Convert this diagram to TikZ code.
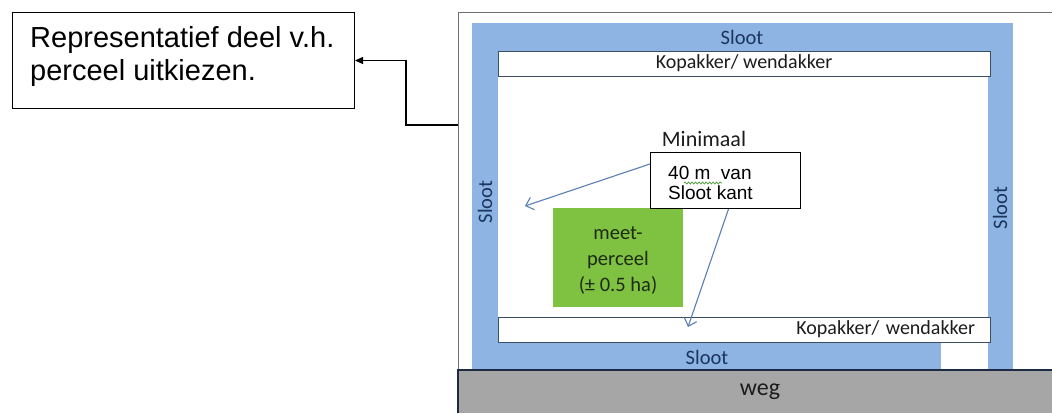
\documentclass[tikz,border=0pt]{standalone}
\usepackage{fontspec}
\setmainfont{Carlito}
\newfontfamily\arialf{Liberation Sans}
\usetikzlibrary{arrows.meta,decorations.pathmorphing,calc}
\definecolor{slootblue}{HTML}{8DB4E2}
\definecolor{slootink}{HTML}{1A355E}
\definecolor{boxedge}{HTML}{3C4E66}
\definecolor{meetgreen}{HTML}{7FC241}
\definecolor{weggray}{HTML}{A6A6A6}
\definecolor{wegedge}{HTML}{1D2A44}
\definecolor{arrowblue}{HTML}{5A7FB5}
\definecolor{framegray}{HTML}{6E6E6E}
\definecolor{inkgray}{HTML}{1C1C1C}
\definecolor{meetink}{HTML}{1E2A14}
\definecolor{squiggle}{HTML}{4E9A3A}
\begin{document}
\begin{tikzpicture}[x=1pt,y=-1pt,
  slootlabel/.style={font=\fontsize{20.5}{24}\selectfont, text=slootink, inner sep=0},
  kopbox/.style={draw=boxedge, line width=1pt, fill=white, inner sep=0,
    minimum width=492, minimum height=25, font=\fontsize{20}{24}\selectfont, text=inkgray},
  lefttext/.style={font=\arialf\fontsize{29}{33}\selectfont, anchor=base west, inner sep=0, text=black},
  afsttext/.style={font=\arialf\fontsize{19}{20}\selectfont, anchor=base west, inner sep=0, text=black},
  bluearrow/.style={arrowblue, line width=1.1pt, -{Straight Barb[length=7pt,width=13pt]}}
]
\useasboundingbox (0,0) rectangle (1052,413);
\fill[white] (0,0) rectangle (1052,413);

% left text box
\node[draw=black, line width=1pt, minimum width=342, minimum height=96, inner sep=0, anchor=north west] (leftbox) at (12,12) {};
\node[lefttext] (lt1) at (30,47) {Representatief deel v.h.};
\node[lefttext] (lt2) at (30,80) {perceel uitkiezen.};

% field frame
\draw[framegray, line width=1pt] (1052,12) -- (458,12) -- (458,413);
\coordinate (frameexit) at (458,125);
\draw[black, line width=1.1pt, -{Triangle[length=8pt,width=7pt]}] (frameexit) -- ++(-52,0) |- (leftbox.east);

% ditches
\fill[slootblue] (472,23) rectangle (1013,370);
\fill[white] (498,51) rectangle (988,342);
\fill[white] (941,342) rectangle (988,370);

\node[kopbox] (koptop) at (744,63.5) {Kopakker/ wendakker};
\node[kopbox, text width=462, align=right] (kopbot) at (744,329.5) {Kopakker/ wendakker};

\node[slootlabel] (slootT) at (742,37) {Sloot};
\node[slootlabel] (slootB) at (707,357) {Sloot};
\node[slootlabel, rotate=90] (slootL) at (485,202) {Sloot};
\node[slootlabel, rotate=90] (slootR) at (1000,208) {Sloot};

% road
\node[fill=weggray, inner sep=0, minimum width=594, minimum height=43, anchor=north west] (weg) at (458,370) {};
\draw[wegedge, line width=1.2pt] (weg.south west) -- (weg.north west) -- (weg.north east);
\node[font=\fontsize{24}{28}\selectfont, text=inkgray] (weglbl) at (760,392) {weg};

% measuring plot
\node[fill=meetgreen, minimum width=130, minimum height=99, inner sep=0] (meet) at (618,257.5) {};
\node[align=center, font=\fontsize{20.5}{26}\selectfont, text=meetink, inner sep=0] (meetlbl) at (618,260) {meet-\\perceel\\(± 0.5 ha)};

% distance note
\node[font=\fontsize{22}{26}\selectfont, anchor=base, text=inkgray, inner sep=0] (mini) at (704,146) {Minimaal};
\node[draw=black, line width=1pt, fill=white, minimum width=150, minimum height=56, anchor=north west, inner sep=0] (afst) at (650,152) {};
\node[afsttext] (afst1) at (668,179) {40 m~ van};
\node[afsttext] (afst2) at (668,199) {Sloot kant};
\draw[squiggle, line width=0.7pt, decorate, decoration={snake, amplitude=1pt, segment length=3.5pt}] (684,183) -- (722,183);

\coordinate (tipA) at (525,206);
\coordinate (tipB) at (688,327);
\draw[bluearrow] ($(afst.north west)!0.21!(afst.south west)$) -- (tipA);
\draw[bluearrow] ($(afst.south west)!0.52!(afst.south east)$) -- (tipB);
\end{tikzpicture}
\end{document}
